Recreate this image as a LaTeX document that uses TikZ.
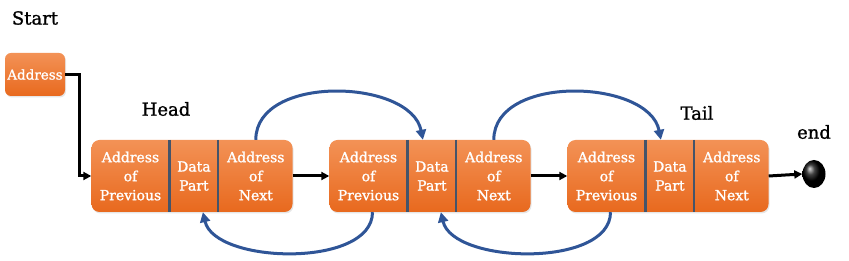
\documentclass[tikz,border=0pt]{standalone}
\usepackage{fontspec}
\setmainfont{DejaVu Serif}
\newfontfamily\heavyfont{DejaVu Serif}[FakeBold=1.2]
\usetikzlibrary{arrows.meta,shapes.geometric,shadows}
\definecolor{boxtop}{HTML}{F39256}
\definecolor{boxbot}{HTML}{E8691E}
\definecolor{divider}{HTML}{44546A}
\definecolor{linkblue}{HTML}{2F5597}

\begin{document}
\begin{tikzpicture}[x=1pt,y=-1pt,
  cell/.style={rounded corners=8pt, top color=boxtop, bottom color=boxbot,
    minimum width=201pt, minimum height=72pt, inner sep=0pt,
    drop shadow={opacity=0.2,shadow xshift=1pt,shadow yshift=-1.5pt}},
  part/.style={minimum height=72pt, inner sep=0pt, text=white, align=center,
    font=\heavyfont\fontsize{14}{19}\selectfont},
  divline/.style={draw=divider, line width=2.5pt},
  link/.style={line width=3pt, -{Triangle[length=8pt,width=8pt]}},
  back/.style={draw=linkblue, line width=3pt, -{Triangle[length=10pt,width=10pt]}},
  lbl/.style={font=\heavyfont\fontsize{18}{20}\selectfont}]
  \useasboundingbox (0,0) rectangle (849,261);
  % Start pointer
  \node[lbl] (start) at (35,18) {Start};
  \node[cell, minimum width=60pt, minimum height=43pt, rounded corners=6pt,
    text=white, font=\heavyfont\fontsize{13.5}{16}\selectfont] (addr) at (35,74.5) {Address};
  % The three nodes of the list
  \foreach \i/\x in {1/192,2/430,3/668} {
    \node[cell] (n\i) at (\x,176) {};
    \node[part, minimum width=78pt, anchor=west] (prev\i) at (n\i.west) {Address\\of\\Previous};
    \node[part, minimum width=48pt, anchor=west] (data\i) at (prev\i.east) {Data\\Part};
    \node[part, minimum width=75pt, anchor=west] (next\i) at (data\i.east) {Address\\of\\Next};
    \draw[divline] (data\i.north west) -- (data\i.south west);
    \draw[divline] (data\i.north east) -- (data\i.south east);
  }
  \node[lbl] (head) at (166,109) {Head};
  \node[lbl] (tail) at (697,113) {Tail};
  % End of the list
  \node[ellipse, minimum width=23pt, minimum height=28pt, inner sep=0pt,
    ball color=black] (endpt) at (814,174) {};
  \node[lbl] (endlbl) at (814,132) {end};
  % Forward links
  \draw[link] (addr.east) -- ++(14,0) |- (n1.west);
  \draw[link] (n1.east) -- (n2.west);
  \draw[link] (n2.east) -- (n3.west);
  \draw[link] (n3.east) -- (endpt.west);
  % Next and previous pointers
  \foreach \a/\b in {1/2,2/3} {
    \draw[back] (next\a.north) .. controls +(0,-66) and +(-12,-61) .. ([xshift=-9pt]data\b.north);
    \draw[back] ([xshift=4pt]prev\b.south) .. controls +(0,56) and +(12,52) .. ([xshift=9pt]data\a.south);
  }
\end{tikzpicture}
\end{document}
